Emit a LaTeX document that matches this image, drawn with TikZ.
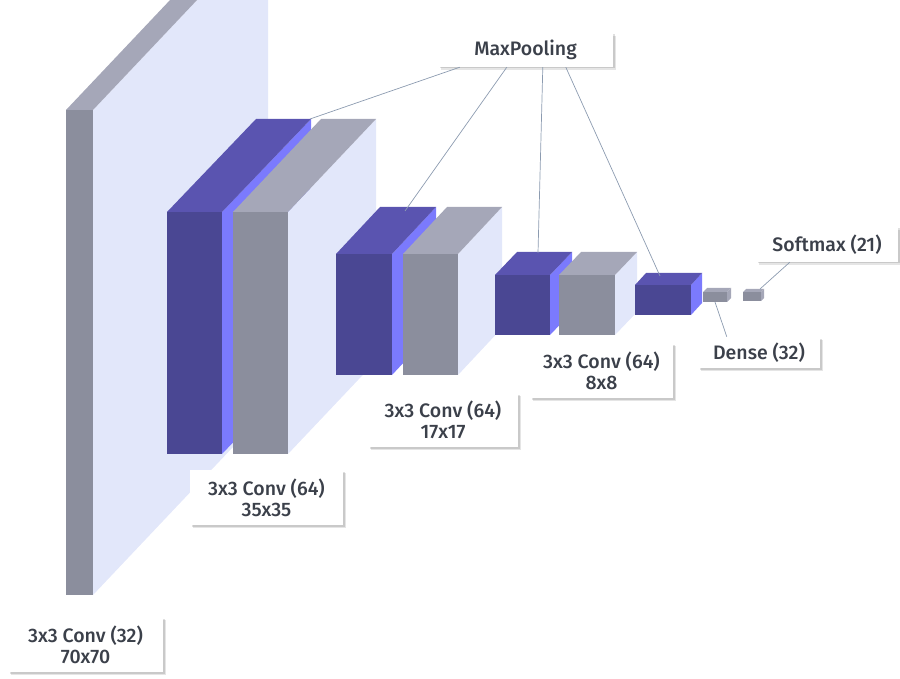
\documentclass[tikz,border=0pt]{standalone}
\usepackage{fontspec}
\setmainfont{Fira Sans Medium}
\usetikzlibrary{shadows}
\definecolor{pfront}{HTML}{4A4793}
\definecolor{ptop}{HTML}{5A54B0}
\definecolor{pside}{HTML}{7B7AFD}
\definecolor{gfront}{HTML}{8B8E9D}
\definecolor{gtop}{HTML}{A5A7B8}
\definecolor{pane}{HTML}{E2E7FA}
\definecolor{txtc}{HTML}{3B404A}
\definecolor{linec}{HTML}{8C9BB0}
% x1 ytop x2 ybottom dx dy front top side
\newcommand{\myblock}[9]{%
  \fill[#9] (#3,#2) -- ++(#5,-#6) -- (#3+#5,#4-#6) -- (#3,#4) -- cycle;
  \fill[#8] (#1,#2) -- (#3,#2) -- ++(#5,-#6) -- (#1+#5,#2-#6) -- cycle;
  \fill[#7] (#1,#2) rectangle (#3,#4);
}
\tikzset{
  lbl/.style={fill=white, text=txtc, align=center, inner sep=0pt,
    font=\fontsize{19.5}{21}\selectfont,
    general shadow={shadow xshift=3pt, shadow yshift=-3pt, opacity=0.10, fill=black},
    drop shadow={shadow xshift=1.5pt, shadow yshift=-1.5pt, opacity=0.12, fill=black}},
  conn/.style={draw=linec, line width=0.7pt}
}
\begin{document}
\begin{tikzpicture}[x=1pt,y=-1pt]
\useasboundingbox (0,0) rectangle (900,679);
\begin{scope}
\clip (0,0) rectangle (900,679);
% layer 1
\myblock{66}{110}{93}{595}{175}{185}{gfront}{gtop}{pane}
% layer 2
\myblock{167}{212}{222}{454}{89}{93}{pfront}{ptop}{pside}
\myblock{233}{212}{288}{454}{88}{93}{gfront}{gtop}{pane}
% layer 3
\myblock{336}{254}{392}{375}{44}{47}{pfront}{ptop}{pside}
\myblock{403}{254}{458}{375}{44}{47}{gfront}{gtop}{pane}
% layer 4
\myblock{495}{275}{550}{335}{22}{23}{pfront}{ptop}{pside}
\myblock{559}{275}{615}{335}{22}{23}{gfront}{gtop}{pane}
% layer 5
\myblock{635}{285}{691}{315}{11}{12}{pfront}{ptop}{pside}
% dense, softmax
\myblock{703}{292}{727}{302}{4}{4}{gfront}{gtop}{gtop}
\myblock{743}{292}{761}{301}{3}{3}{gfront}{gtop}{gtop}
\end{scope}

% anchor points on blocks
\coordinate (b2) at (310,119);
\coordinate (b3) at (405,211);
\coordinate (b4) at (538,253);
\coordinate (b5) at (660,276);
\coordinate (bd) at (715,302);
\coordinate (bs) at (760,289);

% labels
\node[lbl, minimum width=175pt, minimum height=34pt] (mp) at (525.5,50) {MaxPooling};
\node[lbl, minimum width=142pt, minimum height=35pt] (sm) at (827,244.5) {Softmax (21)};
\node[lbl, minimum width=122pt, minimum height=31pt] (dn) at (759,352.5) {Dense (32)};
\node[lbl, minimum width=143pt, minimum height=55pt] (l4) at (601.5,370.5) {3x3 Conv (64)\\8x8};
\node[lbl, minimum width=150pt, minimum height=54pt] (l3) at (443,420) {3x3 Conv (64)\\17x17};
\node[lbl, minimum width=153pt, minimum height=55pt] (l2) at (266.5,497.5) {3x3 Conv (64)\\35x35};
\node[lbl, minimum width=155pt, minimum height=55pt] (l1) at (85.5,644.5) {3x3 Conv (32)\\70x70};

% connectors
\draw[conn] ([xshift=22pt]mp.south west) -- (b2);
\draw[conn] ([xshift=69pt]mp.south west) -- (b3);
\draw[conn] ([xshift=105pt]mp.south west) -- (b4);
\draw[conn] ([xshift=128pt]mp.south west) -- (b5);
\draw[conn] ([xshift=34pt]sm.south west) -- (bs);
\draw[conn] (bd) -- ([xshift=29pt]dn.north west);
\end{tikzpicture}
\end{document}
